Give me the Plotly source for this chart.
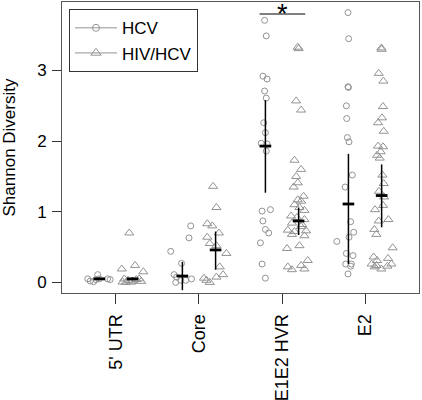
import plotly.graph_objects as go

# ---------------- data ----------------
regions = ["5' UTR", "Core", "E1E2 HVR", "E2"]
region_pos = [1, 2, 3, 4]
y_ticks = [0, 1, 2, 3]

# Shannon diversity values, one list per region and group
hcv_values = [
    [0.05, 0.02, 0.01, 0.04, 0.11, 0.05, 0.05, 0.04],
    [0.44, 0.80, 0.63, 0.27, 0.11, 0.075, 0.0, 0.03, 0.03, 0.05],
    [3.71, 3.49, 2.92, 2.88, 2.71, 2.61, 2.26, 2.12, 1.97, 1.96, 1.86,
     1.03, 1.01, 0.87, 0.75, 0.70, 0.56, 0.26, 0.06],
    [3.82, 3.45, 2.77, 2.76, 2.50, 2.32, 2.05, 1.99, 1.52, 1.35, 0.86,
     0.71, 0.64, 0.58, 0.41, 0.38, 0.26, 0.26, 0.23, 0.12],
]
# horizontal jitter of each point, relative to the region position
hcv_jitter = [
    [-0.34, -0.31, -0.27, -0.24, -0.22, -0.20, -0.10, -0.07],
    [-0.34, -0.10, -0.12, -0.21, -0.30, -0.27, -0.28, -0.22, -0.16, -0.09],
    [-0.21, -0.19, -0.23, -0.18, -0.21, -0.19, -0.22, -0.20, -0.25, -0.18,
     -0.19, -0.14, -0.24, -0.23, -0.20, -0.16, -0.26, -0.24, -0.20],
    [-0.205, -0.197, -0.205, -0.20, -0.225, -0.221, -0.213, -0.193, -0.153,
     -0.24, -0.173, -0.137, -0.193, -0.34, -0.225, -0.145, -0.233, -0.165,
     -0.173, -0.205],
]

hiv_values = [
    [0.19, 0.70, 0.24, 0.15, 0.005, 0.0, 0.03, 0.005, 0.04, 0.05, 0.015,
     0.05, 0.02],
    [1.36, 1.06, 0.83, 0.80, 0.70, 0.64, 0.55, 0.52, 0.41, 0.22, 0.11,
     0.075, 0.06, 0.03, 0.0],
    [3.33, 3.31, 2.57, 2.44, 1.73, 1.60, 1.50, 1.41, 1.35, 1.22, 1.17,
     1.15, 1.10, 1.06, 1.02, 0.94, 0.92, 0.89, 0.84, 0.82, 0.79, 0.74,
     0.72, 0.73, 0.68, 0.66, 0.52, 0.48, 0.31, 0.24, 0.22, 0.18, 0.19],
    [3.32, 3.30, 2.96, 2.85, 2.49, 2.33, 2.26, 2.14, 1.93, 1.92, 1.85,
     1.80, 1.76, 1.52, 1.40, 1.29, 1.21, 1.09, 1.03, 0.89, 0.87, 0.75,
     0.68, 0.49, 0.36, 0.31, 0.34, 0.26, 0.22, 0.19, 0.26, 0.23, 0.24],
]
hiv_jitter = [
    [0.07, 0.16, 0.23, 0.33, 0.08, 0.12, 0.145, 0.185, 0.245, 0.28, 0.305,
     0.10, 0.20],
    [0.17, 0.21, 0.10, 0.16, 0.24, 0.10, 0.13, 0.21, 0.33, 0.25, 0.29,
     0.21, 0.06, 0.09, 0.13],
    [0.19, 0.20, 0.17, 0.23, 0.15, 0.23, 0.17, 0.19, 0.14, 0.26, 0.19,
     0.23, 0.15, 0.21, 0.27, 0.11, 0.18, 0.27, 0.12, 0.24, 0.23, 0.07,
     0.15, 0.29, 0.12, 0.27, 0.21, 0.06, 0.31, 0.23, 0.07, 0.12, 0.27],
    [0.197, 0.20, 0.165, 0.221, 0.217, 0.205, 0.157, 0.225, 0.157, 0.217,
     0.189, 0.145, 0.177, 0.209, 0.225, 0.169, 0.229, 0.217, 0.12, 0.281,
     0.165, 0.112, 0.137, 0.333, 0.104, 0.145, 0.277, 0.08, 0.116, 0.197,
     0.317, 0.269, 0.137],
]

# summary: centre bar and interval per region
hcv_center = [0.05, 0.09, 1.93, 1.11]
hcv_low = [0.03, -0.11, 1.27, 0.26]
hcv_high = [0.07, 0.29, 2.58, 1.82]
hiv_center = [0.05, 0.46, 0.87, 1.23]
hiv_low = [0.03, 0.18, 0.67, 0.78]
hiv_high = [0.07, 0.72, 1.06, 1.67]

group_offset = {"HCV": -0.2, "HIV/HCV": 0.2}
sig_region = 3          # E1E2 HVR marked as significant
sig_level = 3.80

# ---------------- figure ----------------
GREY = "#939393"
FONT = "Liberation Sans, Arial, Helvetica, sans-serif"
fig = go.Figure()

def add_points(values, jitter, symbol, size):
    xs, ys = [], []
    for p, vals, jit in zip(region_pos, values, jitter):
        for v, j in zip(vals, jit):
            xs.append(p + j)
            ys.append(v)
    fig.add_trace(go.Scatter(
        x=xs, y=ys, mode="markers", showlegend=False, hoverinfo="y",
        marker=dict(symbol=symbol, size=size, color=GREY,
                    line=dict(color=GREY, width=1))))

add_points(hcv_values, hcv_jitter, "circle-open", 6)
add_points(hiv_values, hiv_jitter, "triangle-up-open", 8)

def add_summary(center, low, high, off):
    hx, hy, vx, vy = [], [], [], []
    for p, c, lo, hi in zip(region_pos, center, low, high):
        x0 = p + off
        hx += [x0 - 0.07, x0 + 0.07, None]
        hy += [c, c, None]
        vx += [x0, x0, None]
        vy += [lo, hi, None]
    fig.add_trace(go.Scatter(x=vx, y=vy, mode="lines", showlegend=False,
                             hoverinfo="skip",
                             line=dict(color="black", width=1.5)))
    fig.add_trace(go.Scatter(x=hx, y=hy, mode="lines", showlegend=False,
                             hoverinfo="skip",
                             line=dict(color="black", width=2.8)))

add_summary(hcv_center, hcv_low, hcv_high, group_offset["HCV"])
add_summary(hiv_center, hiv_low, hiv_high, group_offset["HIV/HCV"])

# legend entries (line + symbol, as in the reference)
for name, sym, sz in [("HCV", "circle-open", 7), ("HIV/HCV", "triangle-up-open", 9)]:
    fig.add_trace(go.Scatter(
        x=[None], y=[None], mode="lines+markers", name=name,
        line=dict(color=GREY, width=1),
        marker=dict(symbol=sym, size=sz, color=GREY,
                    line=dict(color=GREY, width=1))))

# significance bar
fig.add_shape(type="line", xref="x", yref="y",
              x0=sig_region - 0.27, x1=sig_region + 0.28,
              y0=sig_level, y1=sig_level,
              line=dict(color="black", width=1))
fig.add_annotation(x=sig_region, y=sig_level, xref="x", yref="y",
                   text="*", showarrow=False, yanchor="bottom", yshift=-17,
                   font=dict(family=FONT, size=27, color="black"))

fig.update_layout(
    width=422, height=400,
    margin=dict(l=62, r=3, t=2, b=107),
    paper_bgcolor="white", plot_bgcolor="white",
    font=dict(family=FONT, size=16, color="black"),
    showlegend=True,
    legend=dict(x=0.0196, y=0.975, xanchor="left", yanchor="top",
                bgcolor="white", bordercolor="#333333", borderwidth=1,
                font=dict(family=FONT, size=17, color="black"),
                itemwidth=42, tracegroupgap=0),
    xaxis=dict(range=[0.35, 4.65], tickmode="array", tickvals=region_pos,
               ticktext=regions, tickangle=-90, ticks="outside", ticklen=10,
               tickcolor="#333333", showgrid=False, zeroline=False,
               showline=True, mirror=True, linecolor="#555555", linewidth=1,
               tickfont=dict(family=FONT, size=18), ticklabelstandoff=3,
               automargin=False),
    yaxis=dict(range=[-0.15, 3.97], tickmode="array", tickvals=y_ticks,
               ticks="outside", ticklen=9, tickcolor="#333333",
               showgrid=False, zeroline=False, showline=True, mirror=True,
               linecolor="#555555", linewidth=1,
               tickfont=dict(family=FONT, size=17), ticklabelstandoff=2,
               title=dict(text="Shannon Diversity", standoff=19,
                          font=dict(family=FONT, size=17)),
               automargin=False),
)

fig.write_html("out.html",
               config={"displayModeBar": False},
               post_script="document.body.style.margin='0';"
                           "document.body.style.padding='0';")
